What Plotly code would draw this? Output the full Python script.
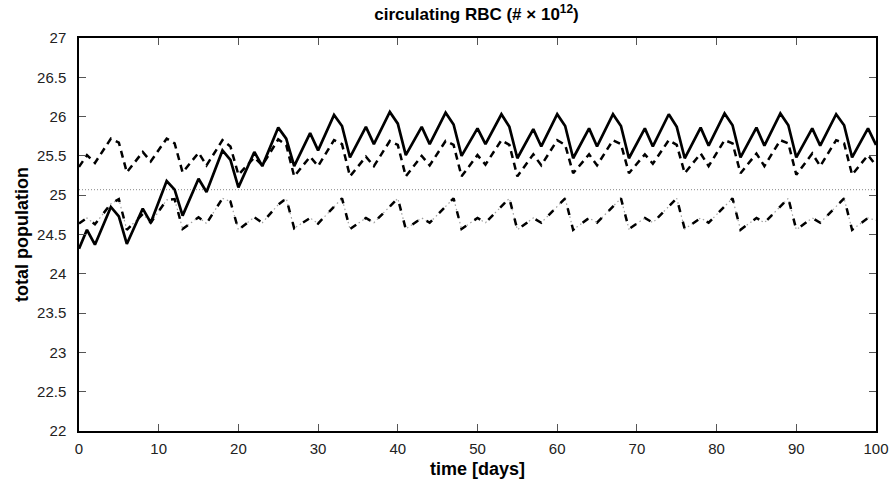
import plotly.graph_objects as go

# vertex days (shared by all three curves)
days = [0, 1, 2, 4, 5, 6, 8, 9, 11, 12, 13, 15, 16, 18, 19, 20, 22, 23, 25, 26, 27,
        29, 30, 32, 33, 34, 36, 37, 39, 40, 41, 43, 44, 46, 47, 48, 50, 51, 53, 54, 55,
        57, 58, 60, 61, 62, 64, 65, 67, 68, 69, 71, 72, 74, 75, 76, 78, 79, 81, 82, 83,
        85, 86, 88, 89, 90, 92, 93, 95, 96, 97, 99, 100]

solid_vals = [24.32, 24.56, 24.37, 24.85, 24.73, 24.38, 24.83, 24.65, 25.18, 25.07, 24.74,
              25.21, 25.04, 25.57, 25.45, 25.10, 25.55, 25.37, 25.86, 25.72, 25.37,
              25.79, 25.57, 26.02, 25.88, 25.48, 25.87, 25.65, 26.06, 25.91, 25.51,
              25.87, 25.65, 26.05, 25.90, 25.50, 25.85, 25.65, 26.03, 25.87, 25.47,
              25.84, 25.62, 26.03, 25.88, 25.47, 25.85, 25.62, 26.03, 25.88, 25.47,
              25.85, 25.62, 26.03, 25.87, 25.47, 25.86, 25.63, 26.04, 25.89, 25.48,
              25.86, 25.63, 26.04, 25.89, 25.48, 25.85, 25.63, 26.03, 25.89, 25.48,
              25.85, 25.64]

dashed_vals = [25.36, 25.51, 25.41, 25.72, 25.67, 25.29, 25.55, 25.43, 25.72, 25.66, 25.29,
               25.54, 25.38, 25.70, 25.62, 25.26, 25.48, 25.38, 25.71, 25.64, 25.24,
               25.49, 25.37, 25.70, 25.65, 25.24, 25.49, 25.37, 25.69, 25.64, 25.24,
               25.50, 25.38, 25.69, 25.64, 25.24, 25.51, 25.39, 25.70, 25.64, 25.24,
               25.52, 25.38, 25.70, 25.64, 25.28, 25.52, 25.38, 25.70, 25.65, 25.28,
               25.52, 25.40, 25.70, 25.64, 25.28, 25.53, 25.37, 25.70, 25.66, 25.28,
               25.53, 25.37, 25.70, 25.66, 25.26, 25.53, 25.37, 25.70, 25.66, 25.26,
               25.51, 25.38]

dashdot_vals = [24.64, 24.71, 24.63, 24.89, 24.95, 24.56, 24.76, 24.65, 24.94, 24.95, 24.57,
                24.72, 24.64, 24.96, 24.92, 24.56, 24.72, 24.65, 24.88, 24.96, 24.58,
                24.71, 24.64, 24.86, 24.96, 24.57, 24.71, 24.65, 24.86, 24.96, 24.57,
                24.71, 24.65, 24.86, 24.96, 24.57, 24.71, 24.65, 24.86, 24.96, 24.56,
                24.71, 24.65, 24.86, 24.96, 24.56, 24.71, 24.65, 24.86, 24.96, 24.57,
                24.71, 24.65, 24.86, 24.96, 24.57, 24.71, 24.65, 24.86, 24.96, 24.56,
                24.71, 24.65, 24.86, 24.96, 24.56, 24.71, 24.65, 24.86, 24.96, 24.56,
                24.71, 24.68]

ref_x = [0, 100]
ref_level = [25.07, 25.07]

x_ticks = [0, 10, 20, 30, 40, 50, 60, 70, 80, 90, 100]
y_ticks = [22, 22.5, 23, 23.5, 24, 24.5, 25, 25.5, 26, 26.5, 27]
y_tick_labels = ["22", "22.5", "23", "23.5", "24", "24.5", "25", "25.5", "26", "26.5", "27"]

FONT = "Liberation Sans, Arial, Helvetica, sans-serif"

fig = go.Figure()
fig.add_trace(go.Scatter(x=ref_x, y=ref_level, mode="lines",
                         line=dict(color="#888888", width=1, dash="1px,2px"),
                         hoverinfo="skip"))
fig.add_trace(go.Scatter(x=days, y=dashdot_vals, mode="lines",
                         line=dict(color="#a0a0a0", width=1.2, dash="1.5px,3px")))
fig.add_trace(go.Scatter(x=days, y=dashdot_vals, mode="lines",
                         line=dict(color="black", width=2.5, dash="7px,10px")))
fig.add_trace(go.Scatter(x=days, y=dashed_vals, mode="lines",
                         line=dict(color="black", width=2.5, dash="7px,5px")))
fig.add_trace(go.Scatter(x=days, y=solid_vals, mode="lines",
                         line=dict(color="black", width=2.7)))

axis_common = dict(showline=True, linecolor="black", linewidth=1.5, mirror="ticks",
                   ticks="inside", ticklen=7, tickwidth=1, tickcolor="#555555",
                   showgrid=False, zeroline=False, automargin=False,
                   tickfont=dict(family=FONT, size=15, color="#222222"))

fig.update_layout(
    width=894, height=484,
    margin=dict(l=79, r=18, t=38, b=53),
    paper_bgcolor="white", plot_bgcolor="white",
    showlegend=False,
    title=dict(text="<b>circulating RBC (# \u00d7 10<sup>12</sup>)</b>",
               x=0.533, xanchor="center", y=0.97, yanchor="middle",
               font=dict(family=FONT, size=17, color="black"), automargin=False),
    xaxis=dict(range=[0, 100], tickvals=x_ticks, ticklabelstandoff=3,
               title=dict(text="<b>time [days]</b>", standoff=7,
                          font=dict(family=FONT, size=18, color="black")),
               **axis_common),
    yaxis=dict(range=[22, 27], tickvals=y_ticks, ticktext=y_tick_labels,
               ticklabelstandoff=8,
               title=dict(text="<b>total population</b>", standoff=4,
                          font=dict(family=FONT, size=18, color="black")),
               **axis_common),
)

fig.write_html("out.html")
